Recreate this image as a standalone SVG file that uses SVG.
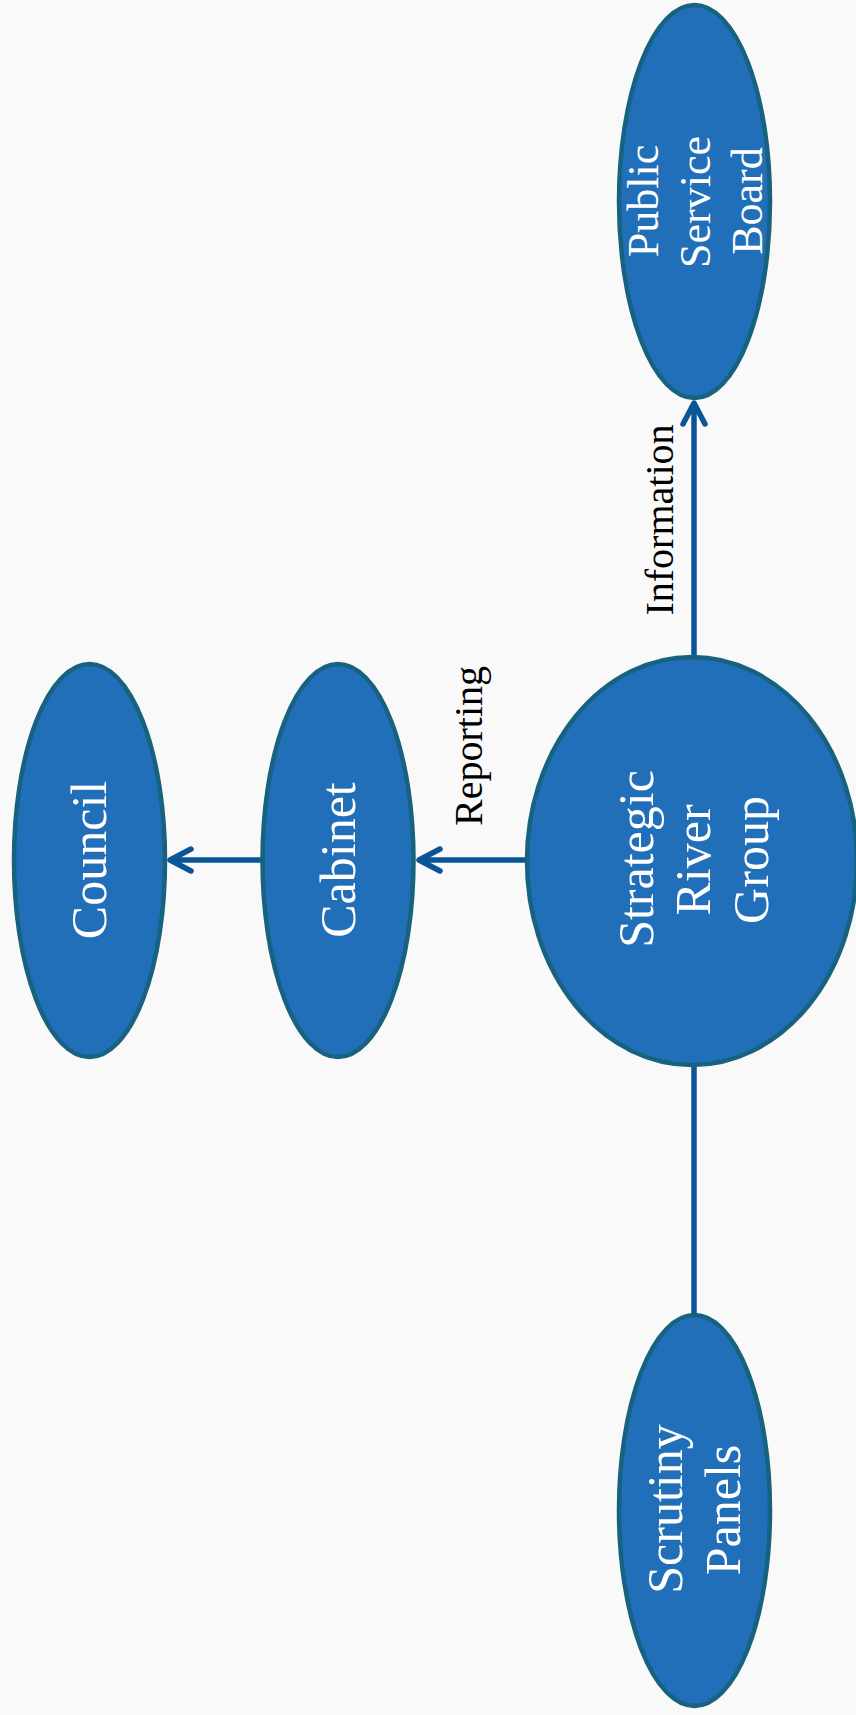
<svg xmlns="http://www.w3.org/2000/svg" width="856" height="1715" viewBox="0 0 856 1715">
  <style>
    .node { fill: #226fb9; stroke: #17627f; stroke-width: 4.5; }
    .ntext { font-family: "Liberation Serif", "DejaVu Serif", serif; fill: #ffffff; text-anchor: middle; }
    .ltext { font-family: "Liberation Serif", "DejaVu Serif", serif; fill: #000000; font-size: 40px; text-anchor: middle; }
    .conn { stroke: #0a5596; stroke-width: 5.5; fill: none; }
  </style>
  <defs>
    <marker id="arr" markerUnits="userSpaceOnUse" markerWidth="40" markerHeight="40" viewBox="-30 -20 40 40" refX="0" refY="0" orient="auto">
      <path d="M-21,-11 L0,0 L-21,11" fill="none" stroke="#0a5596" stroke-width="5.5" stroke-linecap="round" stroke-linejoin="round"/>
    </marker>
  </defs>
  <rect x="0" y="0" width="856" height="1715" fill="#f9f9f9"/>

  <g id="connectors">
    <line class="conn" x1="525" y1="860" x2="419" y2="860" marker-end="url(#arr)"/>
    <line class="conn" x1="262" y1="860" x2="170" y2="860" marker-end="url(#arr)"/>
    <line class="conn" x1="694" y1="656" x2="694" y2="403" marker-end="url(#arr)"/>
    <line class="conn" x1="694" y1="1066" x2="694" y2="1314"/>
    <text class="ltext" transform="translate(482,746) rotate(-90)">Reporting</text>
    <text class="ltext" transform="translate(673,520) rotate(-90)">Information</text>
  </g>

  <g id="council">
    <ellipse class="node" cx="89.5" cy="860.5" rx="75.5" ry="196.5"/>
    <text class="ntext" font-size="50" transform="translate(106,860) rotate(-90)">Council</text>
  </g>

  <g id="cabinet">
    <ellipse class="node" cx="338" cy="860.5" rx="75.5" ry="196.5"/>
    <text class="ntext" font-size="50" transform="translate(355,860) rotate(-90)">Cabinet</text>
  </g>

  <g id="strategic-river-group">
    <ellipse class="node" cx="692" cy="861" rx="165" ry="204"/>
    <text class="ntext" font-size="50" transform="translate(653,859) rotate(-90)">Strategic</text>
    <text class="ntext" font-size="50" transform="translate(710,860) rotate(-90)">River</text>
    <text class="ntext" font-size="50" transform="translate(768,860) rotate(-90)">Group</text>
  </g>

  <g id="public-service-board">
    <ellipse class="node" cx="694.5" cy="201.5" rx="75.5" ry="196.5"/>
    <text class="ntext" font-size="44" transform="translate(658,201) rotate(-90)">Public</text>
    <text class="ntext" font-size="44" transform="translate(710,202) rotate(-90)">Service</text>
    <text class="ntext" font-size="44" transform="translate(762,201) rotate(-90)">Board</text>
  </g>

  <g id="scrutiny-panels">
    <ellipse class="node" cx="694.5" cy="1510.5" rx="75.5" ry="195.5"/>
    <text class="ntext" font-size="50" transform="translate(682,1509) rotate(-90)">Scrutiny</text>
    <text class="ntext" font-size="50" transform="translate(740,1510) rotate(-90)">Panels</text>
  </g>
</svg>
